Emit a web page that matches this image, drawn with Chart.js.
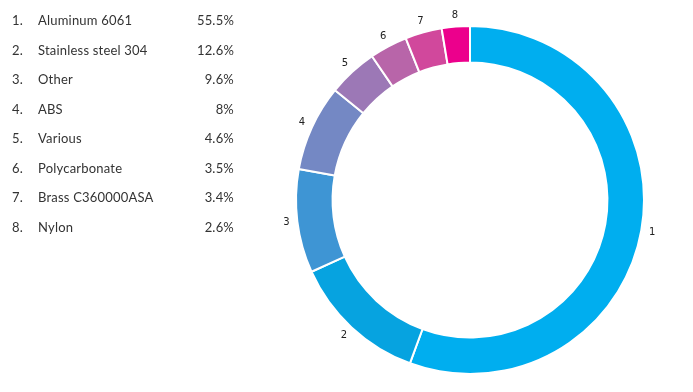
<!DOCTYPE html>
<html>
<head>
<meta charset="utf-8">
<script src="https://cdn.jsdelivr.net/npm/chart.js@4/dist/chart.umd.min.js"></script>
<style>
  html, body { margin: 0; padding: 0; background: #fff; }
  #wrap { position: relative; width: 693px; height: 392px; }
  #chart { position: absolute; left: 0; top: 0; }
  #legend { position: absolute; left: 12px; top: 11px; font-family: Lato, "Open Sans", sans-serif; font-size: 13px; color: #333; letter-spacing: 0.2px; }
  #legend .row { position: relative; height: 29.5px; width: 222px; line-height: 18px; }
  #legend .num { position: absolute; left: 0; }
  #legend .name { position: absolute; left: 26px; }
  #legend .pct { position: absolute; right: 0; }
</style>
</head>
<body>
<div id="wrap">
  <canvas id="chart" width="693" height="392"></canvas>
  <div id="legend"></div>
</div>
<script>
const categories = ["Aluminum 6061", "Stainless steel 304", "Other", "ABS", "Various", "Polycarbonate", "Brass C360000ASA", "Nylon"];
const values = [55.5, 12.6, 9.6, 8, 4.6, 3.5, 3.4, 2.6];
const valueLabels = ["55.5%", "12.6%", "9.6%", "8%", "4.6%", "3.5%", "3.4%", "2.6%"];
const colors = ["#00aeef", "#06a3e0", "#3e95d4", "#7488c4", "#9c78b6", "#b865a9", "#d1489c", "#ec008c"];

const legend = document.getElementById('legend');
categories.forEach((c, i) => {
  const row = document.createElement('div');
  row.className = 'row';
  row.innerHTML = '<span class="num">' + (i + 1) + '.</span><span class="name">' + c + '</span><span class="pct">' + valueLabels[i] + '</span>';
  legend.appendChild(row);
});

const numberLabels = {
  id: 'numberLabels',
  afterDatasetsDraw(chart) {
    const ctx = chart.ctx;
    const meta = chart.getDatasetMeta(0);
    ctx.save();
    ctx.font = '10px "DejaVu Sans", sans-serif';
    ctx.fillStyle = '#222';
    ctx.textAlign = 'center';
    ctx.textBaseline = 'middle';
    meta.data.forEach((arc, i) => {
      const p = arc.getProps(['x', 'y', 'startAngle', 'endAngle', 'outerRadius'], true);
      const mid = (p.startAngle + p.endAngle) / 2;
      const r = p.outerRadius + 11;
      ctx.fillText(String(i + 1), p.x + Math.cos(mid) * r, p.y + Math.sin(mid) * r);
    });
    ctx.restore();
  }
};

new Chart(document.getElementById('chart'), {
  type: 'doughnut',
  data: {
    labels: categories,
    datasets: [{
      data: values,
      backgroundColor: colors,
      borderColor: '#ffffff',
      borderWidth: 2
    }]
  },
  options: {
    responsive: false,
    animation: false,
    cutout: '79%',
    layout: { padding: { left: 295, right: 48, top: 25, bottom: 17 } },
    plugins: { legend: { display: false }, tooltip: { enabled: false } }
  },
  plugins: [numberLabels]
});
</script>
</body>
</html>
